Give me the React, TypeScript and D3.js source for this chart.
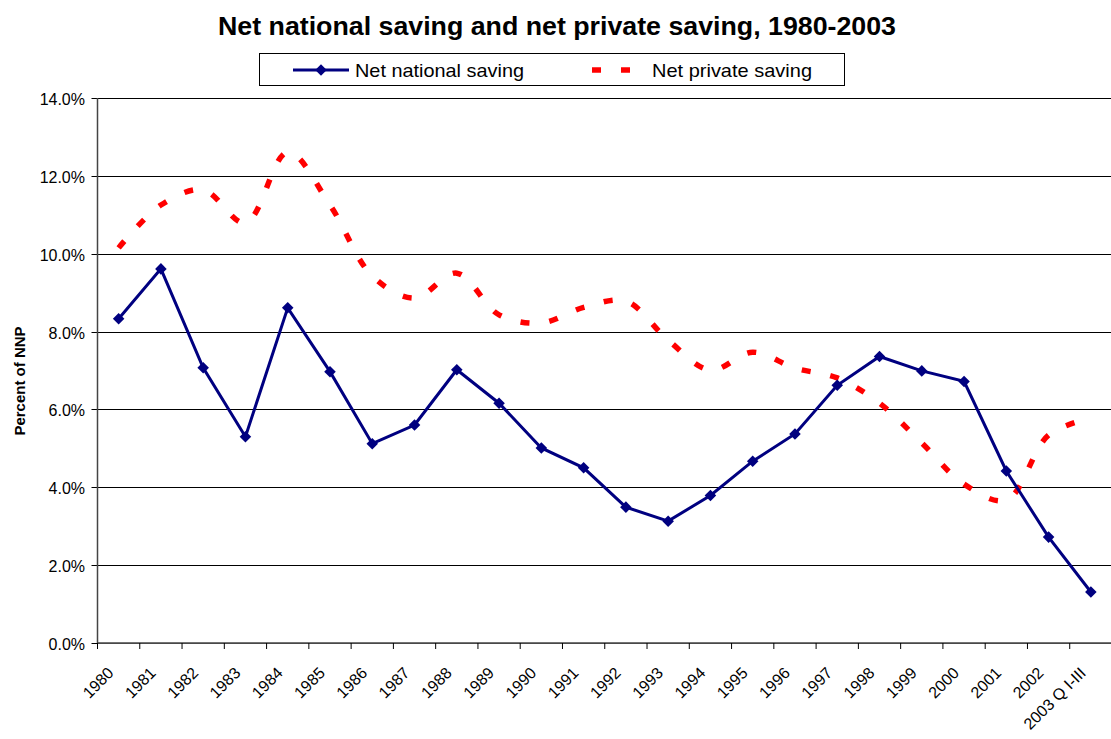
import React from "react";
import * as d3 from "d3";

const categories = ["1980","1981","1982","1983","1984","1985","1986","1987","1988","1989","1990","1991","1992","1993","1994","1995","1996","1997","1998","1999","2000","2001","2002","2003 Q I-III"];
const nationalSaving = [8.33,9.61,7.07,5.3,8.61,6.97,5.12,5.6,7.02,6.16,5.01,4.5,3.49,3.13,3.79,4.67,5.37,6.62,7.36,6.99,6.72,4.42,2.72,1.31];
const privateSaving = [10.15,11.25,11.64,10.79,12.61,11.25,9.43,8.86,9.5,8.43,8.22,8.62,8.78,7.78,7.01,7.47,7.06,6.81,6.16,5.14,4.08,3.67,5.34,5.78];
const yTicks = [0,2,4,6,8,10,12,14];

const W = 1111, H = 739;
const left = 97.5, right = 1112, top = 98, bottom = 643;
const FONT = "Arial, 'Liberation Sans', Helvetica, sans-serif";

export default function App() {
  const x = d3.scaleBand().domain(categories).range([left, right]).padding(0);
  const y = d3.scaleLinear().domain([0, 14]).range([bottom, top]);
  const cx = (c: string) => (x(c) as number) + x.bandwidth() / 2;
  const yy = (v: number) => Math.round(y(v)) + 0.5;

  const natLine = d3.line<number>().x((_, i) => cx(categories[i])).y(d => y(d));
  const privLine = d3.line<number>().x((_, i) => cx(categories[i])).y(d => y(d)).curve(d3.curveCatmullRom.alpha(0.5));
  const diamond = d3.symbol().type(d3.symbolDiamond2).size(85)();

  return (
    <svg width={W} height={H} style={{ position: "absolute", left: 0, top: 0, background: "#fff" }} fontFamily={FONT}>
      <text x={218} y={35} fontSize={25} fontWeight="bold" textLength={678} lengthAdjust="spacingAndGlyphs">Net national saving and net private saving, 1980-2003</text>

      {/* legend */}
      <rect x={259.5} y={53.5} width={585} height={32} fill="#fff" stroke="#000" strokeWidth={1} />
      <line x1={293} x2={349} y1={70} y2={70} stroke="#000080" strokeWidth={3} />
      <path d={diamond} transform="translate(321,70)" fill="#000080" />
      <text x={355} y={77} fontSize={19} textLength={169} lengthAdjust="spacingAndGlyphs">Net national saving</text>
      <line x1={592} x2={630} y1={70} y2={70} stroke="#ff0000" strokeWidth={5.5} strokeDasharray="9,20" />
      <text x={652} y={77} fontSize={19} textLength={160} lengthAdjust="spacingAndGlyphs">Net private saving</text>

      {/* gridlines */}
      {yTicks.map(t => (
        <g key={t}>
          <line x1={left} x2={right} y1={yy(t)} y2={yy(t)} stroke={t === 0 ? "#555" : "#000"} strokeWidth={1} />
          <line x1={left - 6} x2={left} y1={yy(t)} y2={yy(t)} stroke="#000" />
          <text x={85} y={y(t) + 7} textAnchor="end" fontSize={16}>{t.toFixed(1) + "%"}</text>
        </g>
      ))}
      <line x1={left} x2={left} y1={top} y2={bottom} stroke="#444" strokeWidth={1.5} />
      <line x1={left} x2={right} y1={bottom} y2={bottom} stroke="#444" strokeWidth={1.5} />
      {categories.map(c => (
        <line key={"t" + c} x1={x(c) as number} x2={x(c) as number} y1={bottom} y2={bottom + 6} stroke="#000" />
      ))}
      {categories.map(c => (
        <text key={"l" + c} transform={`translate(${cx(c) - 4},${bottom + 31}) rotate(-45)`} textAnchor="end" fontSize={16}>{c}</text>
      ))}

      <text transform={`translate(25,381) rotate(-90)`} textAnchor="middle" fontSize={15} fontWeight="bold">Percent of NNP</text>

      {/* private saving */}
      <path d={privLine(privateSaving) || ""} fill="none" stroke="#ff0000" strokeWidth={5.5} strokeDasharray="9,20" />

      {/* national saving */}
      <path d={natLine(nationalSaving) || ""} fill="none" stroke="#000080" strokeWidth={3} />
      {nationalSaving.map((v, i) => (
        <path key={i} d={diamond} transform={`translate(${cx(categories[i])},${y(v)})`} fill="#000080" />
      ))}
    </svg>
  );
}
